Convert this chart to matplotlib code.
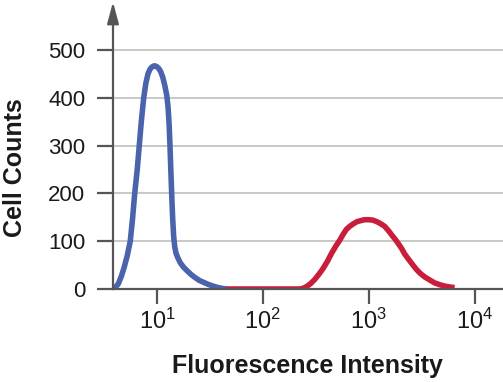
import numpy as np
import matplotlib.pyplot as plt
from matplotlib.ticker import FixedLocator, NullLocator, FuncFormatter

plt.rcParams['font.family'] = ['Liberation Sans', 'DejaVu Sans']
plt.rcParams['mathtext.default'] = 'regular'

# blue population (unstained), log10 intensity vs cell count
blue_log = [0.585, 0.61, 0.635, 0.663, 0.69, 0.72, 0.748, 0.77, 0.790, 0.814,
            0.833, 0.853, 0.875, 0.895, 0.915, 0.935, 0.955, 0.975, 0.993, 1.015,
            1.035, 1.055, 1.075, 1.093, 1.105, 1.115, 1.123, 1.131, 1.139, 1.148,
            1.158, 1.168, 1.18, 1.198, 1.22, 1.25, 1.29, 1.324, 1.36, 1.40,
            1.44, 1.481, 1.53, 1.57, 1.61, 1.654]
blue_cnt = [0, 4, 11, 26, 45, 70, 100, 148, 200, 250,
            300, 352, 400, 430, 450, 460, 465, 467, 466, 462,
            455, 443, 425, 405, 380, 345, 300, 250, 200, 150,
            110, 88, 75, 65, 55, 46, 37, 30, 24, 18,
            14, 10, 6, 3.5, 1.5, 0]

# red population (stained)
red_log = [1.654, 2.0, 2.349, 2.38, 2.412, 2.45, 2.49, 2.53, 2.569, 2.61,
           2.65, 2.69, 2.726, 2.76, 2.79, 2.82, 2.852, 2.89, 2.925, 2.96,
           3.0, 3.04, 3.075, 3.11, 3.151, 3.19, 3.217, 3.25, 3.276, 3.31,
           3.34, 3.38, 3.418, 3.45, 3.49, 3.53, 3.575, 3.62, 3.67, 3.72,
           3.77, 3.811]
red_cnt = [0, 0, 0, 1.5, 5, 11, 20, 31, 43, 58,
           75, 90, 102, 115, 125, 131, 136, 141, 143, 145,
           145, 144, 141, 137, 131, 121, 113, 104, 96, 85,
           73, 61, 50, 41, 32, 25, 19, 13, 9, 6,
           4, 3]

y_ticks = [0, 100, 200, 300, 400, 500]
x_ticks = [1, 2, 3, 4]

fig = plt.figure(figsize=(5.03, 3.82), dpi=100)
ax = fig.add_axes([113 / 503, 93 / 382, 390 / 503, 267 / 382])

line_col = '#555555'
ax.plot(np.power(10.0, blue_log), blue_cnt, color='#4a63ac', lw=4,
        solid_capstyle='round', solid_joinstyle='round', zorder=3)
ax.plot(np.power(10.0, red_log), red_cnt, color='#c81e3c', lw=4,
        solid_capstyle='butt', solid_joinstyle='round', zorder=3)

ax.set_xscale('log')
ax.set_xlim(10 ** 0.585, 10 ** 4.268)
ax.set_ylim(0, 558.6)

ax.xaxis.set_major_locator(FixedLocator([10 ** v for v in x_ticks]))
ax.xaxis.set_minor_locator(NullLocator())
ax.xaxis.set_major_formatter(FuncFormatter(lambda v, p: '$10^{%d}$' % round(np.log10(v))))
ax.set_yticks(y_ticks)
ax.yaxis.grid(True, color='#c4c4c4', lw=1.3)
ax.set_axisbelow(True)

for s in ['top', 'right']:
    ax.spines[s].set_visible(False)
for s in ['left', 'bottom']:
    ax.spines[s].set_color(line_col)
    ax.spines[s].set_linewidth(1.6)
    ax.spines[s].set_zorder(4)

ax.tick_params(axis='y', length=11.5, width=1.6, color=line_col, pad=8.5,
               labelsize=16, labelcolor='#1a1a1a')
ax.tick_params(axis='x', length=11, width=1.6, color=line_col, pad=3,
               labelsize=17, labelcolor='#1a1a1a')

# arrow at top of y axis
ax.annotate('', xy=(0, 1.075), xytext=(0, 0.99), xycoords='axes fraction',
            arrowprops=dict(arrowstyle='-|>,head_width=0.35,head_length=1.3',
                            color=line_col, lw=1.6, shrinkA=0, shrinkB=0),
            annotation_clip=False)

fig.text(15 / 503, 1 - 168 / 382, 'Cell Counts', rotation=90, ha='center',
         va='center', fontsize=18, fontweight='bold', color='#1a1a1a')
fig.text(307 / 503, 1 - 366 / 382, 'Fluorescence Intensity', ha='center',
         va='center', fontsize=18, fontweight='bold', color='#1a1a1a')

fig.savefig('out.png', dpi=100)
